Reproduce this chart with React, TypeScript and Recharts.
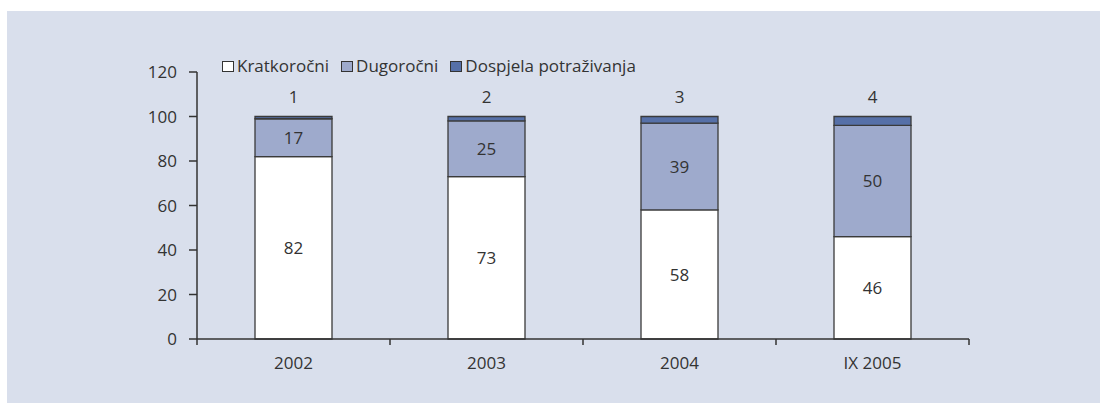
import { Bar, BarChart, LabelList, XAxis, YAxis } from "recharts";

const years = ["2002", "2003", "2004", "IX 2005"];
const kratkorocni = [82, 73, 58, 46];
const dugorocni = [17, 25, 39, 50];
const dospjela = [1, 2, 3, 4];
const yTicks = [0, 20, 40, 60, 80, 100, 120];

const series = [
  { key: "kratkorocni", name: "Kratkoročni", fill: "#ffffff" },
  { key: "dugorocni", name: "Dugoročni", fill: "#9eaacc" },
  { key: "dospjela", name: "Dospjela potraživanja", fill: "#5670a8" },
];

const data = years.map((year, i) => ({
  year,
  kratkorocni: kratkorocni[i],
  dugorocni: dugorocni[i],
  dospjela: dospjela[i],
}));

const W = 1093;
const H = 392;
const MARGIN = { top: 61, right: 131, left: 0, bottom: 34 };
const Y_WIDTH = 190;
const TEXT = "#333333";
const AXIS = "#333333";
const FONT = "'Open Sans', sans-serif";

const band = (W - MARGIN.left - MARGIN.right - Y_WIDTH) / years.length;

function YearTick(props: any) {
  const { x, y, payload, index } = props;
  return (
    <g>
      {index === 0 && (
        <line x1={x - band / 2} x2={x - band / 2} y1={y} y2={y + 6} stroke={AXIS} strokeWidth={1.5} />
      )}
      <line x1={x + band / 2} x2={x + band / 2} y1={y} y2={y + 6} stroke={AXIS} strokeWidth={1.5} />
      <text x={x} y={y + 23} textAnchor="middle" dominantBaseline="central" fill={TEXT} fontSize={17} fontFamily={FONT}>
        {payload.value}
      </text>
    </g>
  );
}

function LegendBox() {
  return (
    <div
      style={{
        position: "absolute",
        left: 215,
        top: 44,
        display: "flex",
        alignItems: "center",
        fontFamily: FONT,
        fontSize: 17,
        color: TEXT,
        lineHeight: "22px",
        whiteSpace: "nowrap",
      }}
    >
      {series.map((s) => (
        <div key={s.key} style={{ display: "flex", alignItems: "center", marginRight: 12 }}>
          <span
            style={{
              width: 10,
              height: 9,
              background: s.fill,
              border: "1.5px solid #333",
              marginRight: 3,
              display: "inline-block",
            }}
          />
          <span>{s.name}</span>
        </div>
      ))}
    </div>
  );
}

export default function App() {
  return (
    <div style={{ position: "absolute", left: 0, top: 0, width: 1100, height: 404, background: "#ffffff" }}>
      <div style={{ position: "absolute", left: 7, top: 11, width: W, height: H, background: "#d9dfec" }}>
        <BarChart width={W} height={H} data={data} margin={MARGIN} barSize={77}>
          <YAxis
            domain={[0, 120]}
            ticks={yTicks}
            width={Y_WIDTH}
            tickSize={8}
            tickMargin={12}
            axisLine={{ stroke: AXIS, strokeWidth: 1.5 }}
            tickLine={{ stroke: AXIS, strokeWidth: 1.5 }}
            tick={{ fill: TEXT, fontSize: 17, fontFamily: FONT }}
          />
          <XAxis
            dataKey="year"
            height={30}
            tickSize={0}
            tickMargin={0}
            tickLine={false}
            axisLine={{ stroke: AXIS, strokeWidth: 1.5 }}
            tick={<YearTick />}
          />
          {series.map((s) => (
            <Bar
              key={s.key}
              dataKey={s.key}
              name={s.name}
              stackId="a"
              fill={s.fill}
              stroke="#3a3a3a"
              strokeWidth={1.3}
              isAnimationActive={false}
            >
              <LabelList
                dataKey={s.key}
                position={s.key === "dospjela" ? "top" : "center"}
                offset={14}
                fill={TEXT}
                fontSize={17}
                fontFamily={FONT}
              />
            </Bar>
          ))}
        </BarChart>
        <LegendBox />
      </div>
    </div>
  );
}
